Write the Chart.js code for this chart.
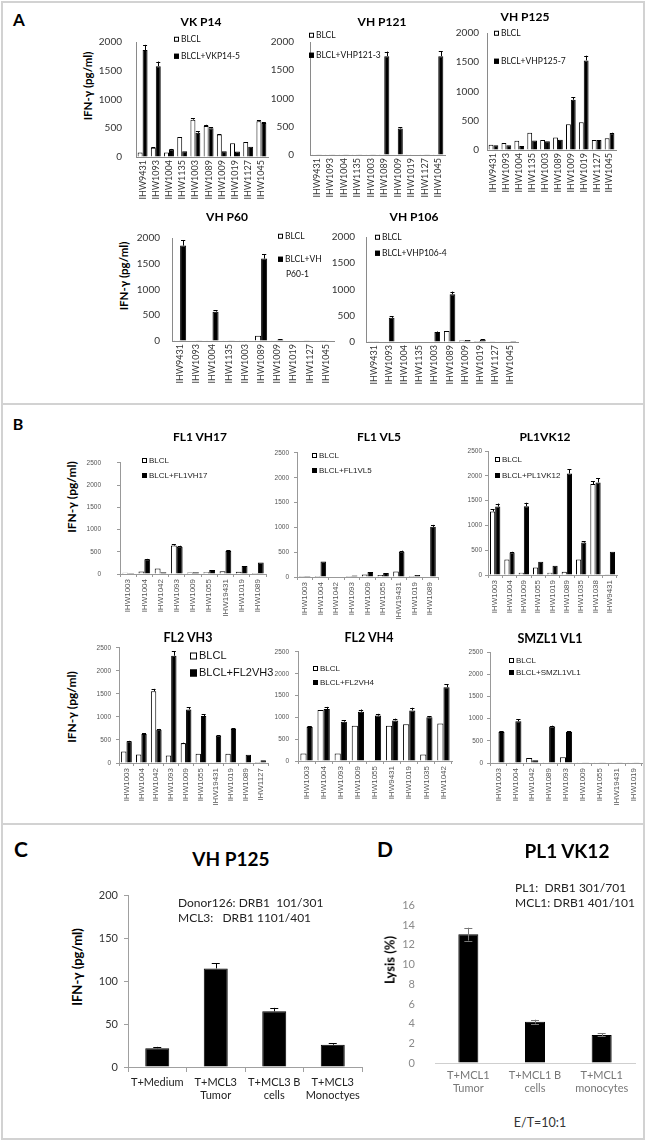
<!DOCTYPE html>
<html>
<head>
<meta charset="utf-8">
<script src="https://cdn.jsdelivr.net/npm/chart.js@4.4.0/dist/chart.umd.min.js"></script>
<style>
body { margin: 0; background: #fff; }
#page { position: relative; width: 646px; height: 1141px; overflow: hidden; font-family: Lato, sans-serif; color: #000; }
.frame { position: absolute; border: 2px solid #d2d2d2; box-sizing: border-box; }
canvas { position: absolute; }
.t { position: absolute; white-space: nowrap; line-height: 1; }
.sq { display: inline-block; border: 1px solid #000; box-sizing: border-box; vertical-align: middle; margin-right: 2px; }
</style>
</head>
<body>
<div id="page"></div>
<script>
// ---- panel A: IFN-g (pg/ml) ----
const catsA = ['IHW9431','IHW1093','IHW1004','IHW1135','IHW1003','IHW1089','IHW1009','IHW1019','IHW1127','IHW1045']

const vkp14Blcl = [80,160,80,350,650,540,390,240,260,620]
const vkp14Stim = [1860,1580,130,100,420,500,100,95,180,590]
const vkp14BlclErr = [0,10,0,0,25,20,10,0,0,15]
const vkp14StimErr = [90,80,10,0,25,15,0,0,0,15]

const vhp121Blcl = [3,3,3,3,3,3,10,3,3,3]
const vhp121Stim = [3,3,3,3,3,1750,470,8,5,1750]
const vhp121StimErr = [0,0,0,0,0,80,20,0,0,90]

const vhp125Blcl = [90,118,160,296,172,215,441,473,172,199]
const vhp125Stim = [80,80,70,161,150,177,860,1532,172,285]
const vhp125StimErr = [0,0,0,0,0,0,45,80,0,10]

const vhp60Blcl = [3,10,3,3,3,100,15,8,5,5]
const vhp60Stim = [1853,15,570,5,8,1600,30,10,10,10]
const vhp60StimErr = [100,0,30,0,0,80,5,0,0,0]

const vhp106Blcl = [5,10,10,10,10,210,30,20,5,10]
const vhp106Stim = [5,460,10,10,190,910,40,50,10,20]
const vhp106StimErr = [0,30,0,0,10,50,0,5,0,0]

// ---- panel B ----
const catsFL1VH17 = ['IHW1003','IHW1004','IHW1042','IHW1093','IHW1009','IHW1055','IHW19431','IHW1019','IHW1089']
const fl1vh17Blcl = [30,55,125,640,35,40,60,50,20]
const fl1vh17Stim = [25,330,40,615,40,90,520,180,260]
const fl1vh17BlclErr = [0,0,0,25,0,0,0,0,0]
const fl1vh17StimErr = [0,10,0,20,0,0,15,0,0]

const catsFL1VL5 = ['IHW1003','IHW1004','IHW1042','IHW1093','IHW1009','IHW1055','IHW19431','IHW1019','IHW1089']
const fl1vl5Blcl = [20,20,10,20,50,40,110,20,10]
const fl1vl5Stim = [20,310,10,30,100,80,510,40,1010]
const fl1vl5StimErr = [0,0,0,0,0,0,20,0,40]

const catsPL1VK12 = ['IHW1003','IHW1004','IHW1009','IHW1055','IHW1019','IHW1089','IHW1035','IHW1038','IHW9431']
const pl1vk12Blcl = [1280,313,47,153,47,67,313,1833,13]
const pl1vk12Stim = [1380,453,1387,267,187,2047,653,1867,467]
const pl1vk12BlclErr = [50,0,0,0,0,0,0,60,0]
const pl1vk12StimErr = [60,15,70,0,0,90,30,80,0]

const catsFL2VH3 = ['IHW1003','IHW1004','IHW1042','IHW1093','IHW1009','IHW1055','IHW19431','IHW1019','IHW1089','IHW1127']
const fl2vh3Blcl = [250,186,1560,164,430,200,5,200,5,20]
const fl2vh3Stim = [471,629,720,2330,1164,1020,590,740,180,60]
const fl2vh3BlclErr = [0,0,50,0,10,0,0,0,0,0]
const fl2vh3StimErr = [10,20,20,100,50,40,15,15,0,0]

const catsFL2VH4 = ['IHW1003','IHW1004','IHW1093','IHW1009','IHW1055','IHW9431','IHW1019','IHW1035','IHW1042']
const fl2vh4Blcl = [170,1170,170,810,5,810,840,150,860]
const fl2vh4Stim = [780,1190,900,1130,1040,930,1160,1000,1690]
const fl2vh4StimErr = [20,50,30,50,40,40,60,30,70]

const catsSMZL1VL1 = ['IHW1003','IHW1004','IHW1042','IHW1089','IHW1093','IHW1009','IHW1055','IHW19431','IHW1019']
const smzl1vl1Blcl = [3,3,110,3,130,3,3,3,3]
const smzl1vl1Stim = [700,940,60,820,700,8,8,5,5]
const smzl1vl1StimErr = [20,40,0,20,20,0,0,0,0]

// ---- panel C / D ----
const catsC = [['T+Medium'],['T+MCL3','Tumor'],['T+MCL3 B','cells'],['T+MCL3','Monoctyes']]
const ifnC = [22,115,65,26]
const ifnCErr = [1.5,6,4,1.5]

const catsD = [['T+MCL1','Tumor'],['T+MCL1 B','cells'],['T+MCL1','monocytes']]
const lysisD = [13.1,4.2,2.85]
const lysisDErr = [0.65,0.2,0.15]

Chart.defaults.font.family = 'Lato, sans-serif'
Chart.defaults.animation = false
Chart.defaults.responsive = false
Chart.defaults.devicePixelRatio = 1
Chart.defaults.plugins.legend.display = false
Chart.defaults.plugins.tooltip.enabled = false

const page = document.getElementById('page')

// error bars drawn on top of the bars
const errorBars = {
    id: 'errorBars',
    afterDatasetsDraw(chart, args, opts) {
        const { ctx } = chart
        const y = chart.scales.y
        chart.data.datasets.forEach((ds, i) => {
            if (!ds.errors) return
            chart.getDatasetMeta(i).data.forEach((bar, j) => {
                const e = ds.errors[j]
                if (!e) return
                const v = ds.data[j]
                const top = y.getPixelForValue(v + e)
                const bottom = opts.both ? y.getPixelForValue(v - e) : bar.y
                const half = opts.cap || Math.max(2, bar.width * 0.35)
                ctx.save()
                ctx.strokeStyle = opts.color || '#000'
                ctx.lineWidth = 1
                ctx.beginPath()
                ctx.moveTo(Math.round(bar.x) + 0.5, top)
                ctx.lineTo(Math.round(bar.x) + 0.5, bottom)
                ctx.moveTo(bar.x - half, Math.round(top) + 0.5)
                ctx.lineTo(bar.x + half, Math.round(top) + 0.5)
                if (opts.both) {
                    ctx.moveTo(bar.x - half, Math.round(bottom) + 0.5)
                    ctx.lineTo(bar.x + half, Math.round(bottom) + 0.5)
                }
                ctx.stroke()
                ctx.restore()
            })
        })
    }
}

function text(str, x, y, css, rot) {
    const d = document.createElement('div')
    d.className = 't'
    d.textContent = str
    d.style.cssText = css
    d.style.left = x + 'px'
    d.style.top = y + 'px'
    d.style.transform = 'translate(-50%,-50%)' + (rot ? ' rotate(-90deg)' : '')
    page.appendChild(d)
}

function leftText(str, x, y, css) {
    const d = document.createElement('div')
    d.className = 't'
    d.textContent = str
    d.style.cssText = css
    d.style.left = x + 'px'
    d.style.top = y + 'px'
    d.style.transform = 'translate(0,-50%)'
    page.appendChild(d)
}

function legend(x, rows, css, sq) {
    rows.forEach(r => {
        const d = document.createElement('div')
        d.className = 't'
        d.style.cssText = css
        d.style.left = x + 'px'
        d.style.top = r.y + 'px'
        d.style.transform = 'translate(0,-50%)'
        const s = document.createElement('span')
        s.className = 'sq'
        s.style.width = sq + 'px'
        s.style.height = sq + 'px'
        s.style.background = r.fill
        d.appendChild(s)
        d.appendChild(document.createTextNode(r.label))
        page.appendChild(d)
    })
}

function barChart(c) {
    const padTop = 8, padRight = 12, yw = 40
    const cv = document.createElement('canvas')
    const w = c.plot.r - c.plot.l + yw + padRight
    const h = c.plot.b - c.plot.t + padTop + c.xh
    cv.width = w
    cv.height = h
    cv.style.left = (c.plot.l - yw) + 'px'
    cv.style.top = (c.plot.t - padTop) + 'px'
    page.appendChild(cv)

    const datasets = c.sets.map(s => ({
        data: s.data,
        errors: s.err,
        backgroundColor: s.fill,
        borderColor: '#000',
        borderWidth: 1,
        categoryPercentage: c.catPct,
        barPercentage: c.barPct || 1
    }))

    return new Chart(cv, {
        type: 'bar',
        data: { labels: c.cats, datasets },
        options: {
            layout: { padding: { top: padTop, right: padRight, left: 0, bottom: 0 } },
            scales: {
                x: {
                    afterFit: s => { s.height = c.xh },
                    grid: { drawOnChartArea: false, drawTicks: !!c.xTicks, tickLength: c.xTicks || 0, color: c.axis },
                    border: { color: c.axis },
                    ticks: {
                        autoSkip: false,
                        minRotation: c.rot, maxRotation: c.rot,
                        padding: c.lp,
                        color: c.labelColor,
                        font: c.labelFont
                    }
                },
                y: {
                    min: 0, max: c.max,
                    afterFit: s => { s.width = yw },
                    grid: { drawOnChartArea: false, drawTicks: !!c.yTicks, tickLength: c.yTicks || 0, color: c.axis },
                    border: { display: c.yLine !== false, color: c.axis },
                    ticks: {
                        stepSize: c.step, padding: c.tp, color: c.tickColor, font: c.tickFont,
                        callback: v => String(v)
                    }
                }
            },
            plugins: { errorBars: c.errOpts || {} }
        },
        plugins: [errorBars]
    })
}

// ---- frame ----
const fr = document.createElement('div')
fr.className = 'frame'
fr.style.cssText = 'left:1px;top:1px;width:644px;height:1139px'
page.appendChild(fr)
;[403, 823].forEach(y => {
    const l = document.createElement('div')
    l.style.cssText = `position:absolute;left:1px;top:${y}px;width:644px;height:2px;background:#d2d2d2`
    page.appendChild(l)
})

// ---- styles ----
const styleA = {
    rot: 90, xh: 48, lp: 3, catPct: 0.75, axis: '#8a8a8a',
    tickFont: { family: 'Lato', size: 10 }, tickColor: '#333',
    labelFont: { family: 'Lato', size: 9 }, labelColor: '#333',
    max: 2000, step: 500
}
const styleB = {
    rot: 90, xh: 46, lp: 2, catPct: 0.72, axis: '#999', xTicks: 3, yTicks: 3,
    tickFont: { family: 'Liberation Sans', size: 6.5 }, tickColor: '#555',
    labelFont: { family: 'Liberation Sans', size: 8 }, labelColor: '#555',
    max: 2500, step: 500
}
const W = '#fff', K = '#000'

// ---- panel A charts ----
barChart({ ...styleA, cats: catsA, plot: { l: 136, t: 30, r: 268, b: 157 }, tp: 14,
    sets: [{ data: vkp14Blcl, err: vkp14BlclErr, fill: W }, { data: vkp14Stim, err: vkp14StimErr, fill: K }] })
barChart({ ...styleA, cats: catsA, plot: { l: 310, t: 28, r: 445, b: 155 }, tp: 16,
    sets: [{ data: vhp121Blcl, fill: W }, { data: vhp121Stim, err: vhp121StimErr, fill: K }] })
barChart({ ...styleA, cats: catsA, plot: { l: 487, t: 27, r: 616, b: 150 }, tp: 8,
    sets: [{ data: vhp125Blcl, fill: W }, { data: vhp125Stim, err: vhp125StimErr, fill: K }] })
barChart({ ...styleA, cats: catsA, plot: { l: 172, t: 228, r: 334, b: 341 }, tp: 12,
    sets: [{ data: vhp60Blcl, fill: W }, { data: vhp60Stim, err: vhp60StimErr, fill: K }] })
barChart({ ...styleA, cats: catsA, plot: { l: 366, t: 228, r: 518, b: 342 }, tp: 11,
    sets: [{ data: vhp106Blcl, fill: W }, { data: vhp106Stim, err: vhp106StimErr, fill: K }] })

// ---- panel B charts ----
barChart({ ...styleB, cats: catsFL1VH17, plot: { l: 120, t: 451, r: 266, b: 574 }, tp: 16,
    sets: [{ data: fl1vh17Blcl, err: fl1vh17BlclErr, fill: W }, { data: fl1vh17Stim, err: fl1vh17StimErr, fill: K }] })
barChart({ ...styleB, cats: catsFL1VL5, plot: { l: 297, t: 452, r: 438, b: 577 }, tp: 5,
    sets: [{ data: fl1vl5Blcl, fill: W }, { data: fl1vl5Stim, err: fl1vl5StimErr, fill: K }] })
barChart({ ...styleB, cats: catsPL1VK12, plot: { l: 488, t: 451, r: 617, b: 575 }, tp: 3,
    sets: [{ data: pl1vk12Blcl, err: pl1vk12BlclErr, fill: W }, { data: pl1vk12Stim, err: pl1vk12StimErr, fill: K }] })
barChart({ ...styleB, cats: catsFL2VH3, plot: { l: 119, t: 647, r: 268, b: 763 }, tp: 5,
    sets: [{ data: fl2vh3Blcl, err: fl2vh3BlclErr, fill: W }, { data: fl2vh3Stim, err: fl2vh3StimErr, fill: K }] })
barChart({ ...styleB, cats: catsFL2VH4, plot: { l: 298, t: 650, r: 452, b: 761 }, tp: 6,
    sets: [{ data: fl2vh4Blcl, fill: W }, { data: fl2vh4Stim, err: fl2vh4StimErr, fill: K }] })
barChart({ ...styleB, cats: catsSMZL1VL1, plot: { l: 490, t: 652, r: 642, b: 763 }, tp: 4,
    sets: [{ data: smzl1vl1Blcl, fill: W }, { data: smzl1vl1Stim, err: smzl1vl1StimErr, fill: K }] })

// ---- panel C ----
barChart({
    cats: catsC, plot: { l: 128, t: 891, r: 362, b: 1067 }, rot: 0, xh: 45, lp: 4,
    catPct: 1, barPct: 0.41, axis: '#a0a0a0', xTicks: 5, yTicks: 4,
    tickFont: { family: 'Lato', size: 11 }, tickColor: '#333',
    labelFont: { family: 'Lato', size: 11 }, labelColor: '#222',
    max: 200, step: 50, tp: 6,
    sets: [{ data: ifnC, err: ifnCErr, fill: K }],
    errOpts: { cap: 4 }
})

// ---- panel D ----
barChart({
    cats: catsD, plot: { l: 435, t: 887, r: 635, b: 1063 }, rot: 0, xh: 45, lp: 6,
    catPct: 1, barPct: 0.3, axis: '#cfcfcf', yLine: false,
    tickFont: { family: 'Lato', size: 11 }, tickColor: '#8a8a8a',
    labelFont: { family: 'Lato', size: 11 }, labelColor: '#777',
    max: 16, step: 2, tp: 20,
    sets: [{ data: lysisD, err: lysisDErr, fill: K }],
    errOpts: { both: true, cap: 4, color: '#777' }
})

// ---- text: panel letters, titles, axis titles, legends ----
const bold = 'font-weight:700;'
text('A', 19, 19, bold + 'font-size:17px')
text('B', 18, 424, bold + 'font-size:16px')
text('C', 21, 848, bold + 'font-size:21px')
text('D', 385, 848, bold + 'font-size:21px')

const tA = bold + 'font-size:12px'
text('VK P14', 201, 22, tA)
text('VH P121', 382, 22, tA)
text('VH P125', 525, 17, tA)
text('VH P60', 227, 217, tA)
text('VH P106', 414, 217, tA)
text('FL1 VH17', 200, 437, tA)
text('FL1 VL5', 379, 437, tA)
text('PL1VK12', 545, 437, tA)
text('FL2 VH3', 188, 638, bold + 'font-size:12.5px')
text('FL2 VH4', 369, 638, bold + 'font-size:12.5px')
text('SMZL1 VL1', 550, 639, bold + 'font-size:12.5px')
text('VH P125', 231, 858, bold + 'font-size:19px')
text('PL1 VK12', 567, 850, bold + 'font-size:19px')

const yt = bold + 'font-size:11.5px'
text('IFN-γ (pg/ml)', 88, 86, yt, true)
text('IFN-γ (pg/ml)', 124, 276, yt, true)
text('IFN-γ (pg/ml)', 72, 497, bold + 'font-size:12px', true)
text('IFN-γ (pg/ml)', 72, 707, bold + 'font-size:12px', true)
text('IFN-γ (pg/ml)', 77, 967, bold + 'font-size:13px', true)
text('Lysis (%)', 390, 960, bold + 'font-size:13px', true)

const lgA = 'font-size:8.5px;color:#111'
legend(174, [{ y: 39, fill: W, label: 'BLCL' }, { y: 56, fill: K, label: 'BLCL+VKP14-5' }], lgA, 5)
legend(309, [{ y: 35, fill: W, label: 'BLCL' }, { y: 55, fill: K, label: 'BLCL+VHP121-3' }], lgA, 5)
legend(494, [{ y: 33, fill: W, label: 'BLCL' }, { y: 61, fill: K, label: 'BLCL+VHP125-7' }], lgA, 5)
legend(278, [{ y: 236, fill: W, label: 'BLCL' }, { y: 259, fill: K, label: 'BLCL+VH' }], lgA, 5)
leftText('P60-1', 286, 274, lgA)
legend(375, [{ y: 237, fill: W, label: 'BLCL' }, { y: 253, fill: K, label: 'BLCL+VHP106-4' }], lgA, 5)

const lgB = 'font-family:"Liberation Sans";font-size:8px;color:#222'
legend(142, [{ y: 461, fill: W, label: 'BLCL' }, { y: 476, fill: K, label: 'BLCL+FL1VH17' }], lgB, 5)
legend(312, [{ y: 456, fill: W, label: 'BLCL' }, { y: 471, fill: K, label: 'BLCL+FL1VL5' }], lgB, 5)
legend(495, [{ y: 460, fill: W, label: 'BLCL' }, { y: 476, fill: K, label: 'BLCL+PL1VK12' }], lgB, 5)
legend(190, [{ y: 655, fill: W, label: 'BLCL' }, { y: 672, fill: K, label: 'BLCL+FL2VH3' }],
    'font-family:"Liberation Sans";font-size:11px;color:#111', 7)
legend(313, [{ y: 669, fill: W, label: 'BLCL' }, { y: 683, fill: K, label: 'BLCL+FL2VH4' }], lgB, 5)
legend(509, [{ y: 661, fill: W, label: 'BLCL' }, { y: 673, fill: K, label: 'BLCL+SMZL1VL1' }], lgB, 5)

const note = 'font-size:12px;color:#222;white-space:pre'
leftText('Donor126: DRB1  101/301', 178, 903, note)
leftText('MCL3:   DRB1 1101/401', 178, 918, note)
leftText('PL1:  DRB1 301/701', 515, 888, note)
leftText('MCL1: DRB1 401/101', 515, 903, note)
text('E/T=10:1', 540, 1123, 'font-size:12.5px;color:#333')
</script>
</body>
</html>
